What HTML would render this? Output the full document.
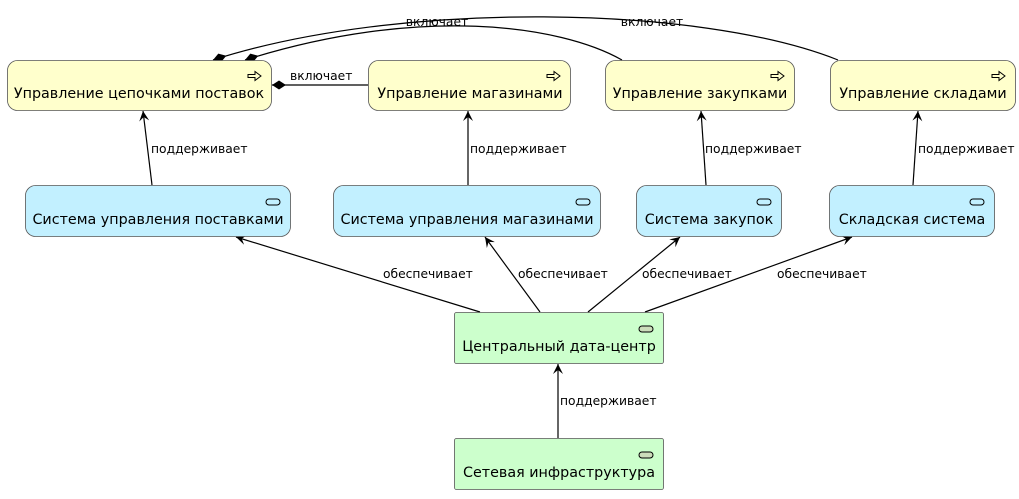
<!DOCTYPE html>
<html><head><meta charset="utf-8"><style>
body{margin:0;background:#fff}
svg text{font-family:"DejaVu Sans","Liberation Sans",sans-serif}
</style></head><body>
<svg width="1019" height="494" viewBox="0 0 1019 494" xmlns="http://www.w3.org/2000/svg">
<defs>
<marker id="ar" markerWidth="12" markerHeight="12" refX="10" refY="5" orient="auto" markerUnits="userSpaceOnUse">
<path d="M0,0 L10,5 L0,10 L4,5 Z" fill="#000"/></marker>
<marker id="dm" markerWidth="18" markerHeight="12" refX="15" refY="5" orient="auto" markerUnits="userSpaceOnUse">
<path d="M1,5 L8,0.5 L15,5 L8,9.5 Z" fill="#000"/></marker>
</defs>
<g fill="none" stroke="#000" stroke-width="1.2">
<path d="M838,60 C700,5 400,0 213,60" marker-end="url(#dm)"/>
<path d="M622,60 C560,25 420,5 245,60" marker-end="url(#dm)"/>
<path d="M368,85 L272,85" marker-end="url(#dm)"/>
<path d="M152,185 L143,111" marker-end="url(#ar)"/>
<path d="M468,185 L468,111" marker-end="url(#ar)"/>
<path d="M706,185 L701,111" marker-end="url(#ar)"/>
<path d="M913,185 L918,111" marker-end="url(#ar)"/>
<path d="M480,312 L236,237" marker-end="url(#ar)"/>
<path d="M540,312 L485,237" marker-end="url(#ar)"/>
<path d="M588,312 L680,237" marker-end="url(#ar)"/>
<path d="M645,312 L852,237" marker-end="url(#ar)"/>
<path d="M558,438 L558,364" marker-end="url(#ar)"/>
</g>
<g font-size="12.3" fill="#000">
<text x="437" y="26" text-anchor="middle">включает</text>
<text x="652" y="26" text-anchor="middle">включает</text>
<text x="290" y="80">включает</text>
<text x="151" y="153">поддерживает</text>
<text x="470" y="153">поддерживает</text>
<text x="705" y="153">поддерживает</text>
<text x="918" y="153">поддерживает</text>
<text x="383" y="278">обеспечивает</text>
<text x="518" y="278">обеспечивает</text>
<text x="642" y="278">обеспечивает</text>
<text x="777" y="278">обеспечивает</text>
<text x="560" y="405">поддерживает</text>
</g>
<g stroke="#555" stroke-width="0.8">
<rect x="7.5" y="60.5" width="264" height="50" rx="10" fill="#ffffcc"/>
<rect x="368.5" y="60.5" width="202" height="50" rx="10" fill="#ffffcc"/>
<rect x="605.5" y="60.5" width="189" height="50" rx="10" fill="#ffffcc"/>
<rect x="830.5" y="60.5" width="185" height="50" rx="10" fill="#ffffcc"/>
<rect x="25.5" y="185.5" width="265" height="51" rx="10" fill="#c2f0ff"/>
<rect x="333.5" y="185.5" width="267" height="51" rx="10" fill="#c2f0ff"/>
<rect x="636.5" y="185.5" width="145" height="51" rx="10" fill="#c2f0ff"/>
<rect x="829.5" y="185.5" width="165" height="51" rx="10" fill="#c2f0ff"/>
<rect x="454.5" y="312.5" width="209" height="51" rx="2" fill="#ccffcc"/>
<rect x="454.5" y="438.5" width="209" height="51" rx="2" fill="#ccffcc"/>
</g>
<g stroke="#000" stroke-width="1" fill="#ffffcc">
<path d="M248,74.5 h7 v-3 l6,4.5 l-6,4.5 v-3 h-7 Z"/>
<path d="M547,74.5 h7 v-3 l6,4.5 l-6,4.5 v-3 h-7 Z"/>
<path d="M771,74.5 h7 v-3 l6,4.5 l-6,4.5 v-3 h-7 Z"/>
<path d="M992,74.5 h7 v-3 l6,4.5 l-6,4.5 v-3 h-7 Z"/>
</g>
<g stroke="#000" stroke-width="1">
<rect x="266" y="199" width="14" height="6" rx="3" fill="#c2f0ff"/>
<rect x="576" y="199" width="14" height="6" rx="3" fill="#c2f0ff"/>
<rect x="757" y="199" width="14" height="6" rx="3" fill="#c2f0ff"/>
<rect x="970" y="199" width="14" height="6" rx="3" fill="#c2f0ff"/>
<rect x="639" y="326" width="14" height="6" rx="3" fill="#ccddbb"/>
<rect x="639" y="452" width="14" height="6" rx="3" fill="#ccddbb"/>
</g>
<g font-size="14.3" fill="#000" text-anchor="middle">
<text x="139" y="98">Управление цепочками поставок</text>
<text x="470" y="98">Управление магазинами</text>
<text x="700" y="98">Управление закупками</text>
<text x="923" y="98">Управление складами</text>
<text x="158" y="224">Система управления поставками</text>
<text x="467" y="224">Система управления магазинами</text>
<text x="709" y="224">Система закупок</text>
<text x="912" y="224">Складская система</text>
<text x="559" y="351">Центральный дата-центр</text>
<text x="559" y="477">Сетевая инфраструктура</text>
</g>
</svg>
</body></html>
